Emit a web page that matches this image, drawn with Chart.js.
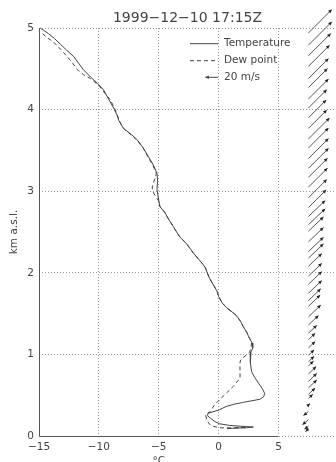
<!DOCTYPE html>
<html>
<head>
<meta charset="utf-8">
<title>1999-12-10 17:15Z</title>
<script src="https://cdn.jsdelivr.net/npm/chart.js@4/dist/chart.umd.min.js"></script>
<style>
  html, body { margin: 0; padding: 0; background: #fff; }
  #wrap { width: 336px; height: 462px; }
</style>
</head>
<body>
<div id="wrap"><canvas id="sounding" width="336" height="462"></canvas></div>
<script>
// --- sounding data ---
const titleText = "1999\u221212\u221210 17:15Z";
const xTicks = [-15, -10, -5, 0, 5];
const yTicks = [0, 1, 2, 3, 4, 5];

// temperature (km, degC), from top to surface
const tempHeights = [5.00, 4.93, 4.87, 4.80, 4.73, 4.65, 4.57, 4.49, 4.40, 4.32, 4.24, 4.16, 4.08, 4.00,
  3.92, 3.87, 3.77, 3.69, 3.63, 3.53, 3.42, 3.32, 3.22, 3.12, 3.02, 2.89, 2.81, 2.74, 2.65, 2.57, 2.51,
  2.44, 2.36, 2.24, 2.12, 2.06, 2.00, 1.93, 1.85, 1.77, 1.71, 1.63, 1.57, 1.50, 1.47, 1.40, 1.34, 1.27,
  1.22, 1.14, 1.08, 1.03, 1.00, 0.90, 0.79, 0.72, 0.65, 0.58, 0.52, 0.48, 0.45, 0.43, 0.41, 0.39, 0.36,
  0.32, 0.28, 0.25, 0.22, 0.18, 0.15, 0.13, 0.12, 0.11, 0.10, 0.095, 0.09];
const tempValues = [-14.9, -14.2, -13.7, -13.2, -12.7, -12.1, -11.7, -11.3, -10.7, -10.1, -9.6, -9.3, -9.0, -8.7,
  -8.45, -8.35, -7.95, -7.25, -6.8, -6.3, -5.85, -5.45, -5.15, -5.1, -5.15, -5.0, -4.9, -4.5, -4.15, -3.8, -3.55,
  -3.25, -2.7, -2.1, -1.4, -1.1, -0.95, -0.75, -0.43, -0.12, 0.0, 0.3, 0.68, 1.3, 1.52, 1.85, 2.05, 2.35,
  2.5, 2.8, 2.85, 2.7, 2.65, 2.65, 2.75, 3.0, 3.32, 3.65, 3.85, 3.75, 3.45, 2.7, 2.0, 1.3, 0.6,
  0.05, -0.85, -0.95, -0.7, -0.35, 0.05, 0.9, 1.8, 2.9, 2.3, 1.2, 0.7];

// dew point (km, degC)
const dewHeights = [4.93, 4.88, 4.83, 4.74, 4.65, 4.57, 4.49, 4.43, 4.38, 4.28, 4.20, 4.12, 4.02, 3.91,
  3.85, 3.77, 3.69, 3.63, 3.53, 3.42, 3.32, 3.22, 3.16, 3.10, 3.04, 2.97, 2.89, 2.81, 2.74, 2.65, 2.57,
  2.51, 2.44, 2.36, 2.24, 2.12, 2.06, 2.00, 1.93, 1.85, 1.77, 1.71, 1.63, 1.57, 1.50, 1.47, 1.40, 1.34,
  1.27, 1.22, 1.14, 1.08, 1.03, 0.99, 0.95, 0.92, 0.85, 0.71, 0.61, 0.53, 0.45, 0.38, 0.30, 0.26, 0.20,
  0.15, 0.12, 0.10, 0.10, 0.11, 0.10];
const dewValues = [-14.7, -14.3, -13.8, -13.2, -12.65, -12.2, -11.8, -11.3, -10.7, -9.9, -9.5, -9.05, -8.7, -8.4,
  -8.25, -7.95, -7.3, -6.85, -6.3, -5.9, -5.5, -5.2, -5.3, -5.45, -5.55, -5.4, -5.05, -4.9, -4.5, -4.15, -3.8,
  -3.55, -3.25, -2.7, -2.1, -1.4, -1.1, -0.95, -0.75, -0.43, -0.12, 0.0, 0.3, 0.68, 1.3, 1.52, 1.85, 2.05,
  2.35, 2.5, 2.75, 2.7, 2.6, 2.3, 1.95, 1.8, 1.78, 1.79, 1.23, 0.68, 0.12, -0.35, -0.71, -1.1, -0.98,
  -0.8, -0.5, 0.12, 1.23, 2.35, 1.5];

// wind vectors (km, u m/s, v m/s)
const windHeights = [4.94, 4.79, 4.66, 4.53, 4.38, 4.27, 4.13, 4.02, 3.90, 3.77, 3.64, 3.53, 3.40, 3.28,
  3.17, 3.05, 2.92, 2.80, 2.69, 2.59, 2.51, 2.38, 2.26, 2.18, 2.08, 1.96, 1.86, 1.75, 1.66, 1.59, 1.46,
  1.36, 1.26, 1.18, 1.08, 0.99, 0.91, 0.86, 0.76, 0.67, 0.59, 0.51, 0.46, 0.38, 0.30, 0.20, 0.12, 0.09];
const windU = [36.8, 36.8, 35.2, 33.2, 31.6, 30.0, 31.6, 28.9, 28.0, 28.9, 33.2, 31.6, 31.6, 31.6,
  30.0, 30.0, 28.9, 28.0, 26.4, 26.4, 23.7, 23.7, 23.7, 23.7, 21.0, 21.0, 21.0, 21.0, 19.4, 18.5, 19.4,
  15.8, 13.1, 10.6, 10.6, 9.0, 9.0, 7.9, 12.2, 13.1, 13.1, 10.6, 6.8, 2.4, -7.9, -9.5, -6.3, -4.7];
const windV = [36.8, 36.8, 35.2, 33.2, 31.6, 30.0, 31.6, 28.9, 28.0, 28.9, 33.2, 31.6, 31.6, 31.6,
  30.0, 30.0, 28.9, 28.0, 25.0, 25.0, 22.5, 22.5, 22.5, 22.5, 20.0, 20.0, 20.0, 20.0, 18.5, 17.6, 18.5,
  15.0, 12.5, 10.1, 10.1, 8.6, 8.6, 7.5, 11.6, 12.5, 12.5, 10.1, 6.5, 2.3, -6.3, -7.9, -4.7, -4.7];
const windX = 7.5;       // column where the arrows start (x axis units)
const windRef = 20;      // legend arrow, m/s
const pxPerMs = 0.635;

const ink = "#444";
const font = "10.5px 'DejaVu Sans'";

const toPoints = (hs, vs) => hs.map((h, i) => ({ x: vs[i], y: h }));
const minus = v => (v < 0 ? "\u2212" + Math.abs(v) : String(v));

function arrow(ctx, x0, y0, x1, y1) {
    ctx.beginPath();
    ctx.moveTo(x0, y0);
    ctx.lineTo(x1, y1);
    ctx.stroke();
    const a = Math.atan2(y1 - y0, x1 - x0);
    const len = 4, w = 0.45;
    ctx.beginPath();
    ctx.moveTo(x1, y1);
    ctx.lineTo(x1 - len * Math.cos(a - w), y1 - len * Math.sin(a - w));
    ctx.lineTo(x1 - len * Math.cos(a + w), y1 - len * Math.sin(a + w));
    ctx.closePath();
    ctx.fill();
}

// --- custom drawing: axes, title, legend, wind arrows ---
const soundingDecor = {
    id: "soundingDecor",
    afterDraw(chart) {
        const { ctx, chartArea: ca, scales: { x, y } } = chart;
        ctx.save();

        // solid axis lines
        ctx.strokeStyle = "#555";
        ctx.lineWidth = 1;
        ctx.beginPath();
        const xl = Math.round(x.getPixelForValue(xTicks[0])) + 0.5;
        const yb = Math.round(y.getPixelForValue(0)) + 0.5;
        ctx.moveTo(xl, Math.round(y.getPixelForValue(5)));
        ctx.lineTo(xl, yb);
        ctx.lineTo(x.getPixelForValue(xTicks[xTicks.length - 1]), yb);
        ctx.stroke();

        // title
        ctx.fillStyle = ink;
        ctx.font = "14px 'DejaVu Sans'";
        ctx.textAlign = "center";
        ctx.textBaseline = "alphabetic";
        ctx.fillText(titleText, (ca.left + ca.right) / 2, 22);

        // x axis title, centred on the temperature range
        ctx.font = font;
        const xc = (x.getPixelForValue(xTicks[0]) + x.getPixelForValue(xTicks[xTicks.length - 1])) / 2;
        ctx.fillText("\u00b0C", xc, 464);

        // y axis title
        ctx.save();
        ctx.translate(14, (ca.top + ca.bottom) / 2);
        ctx.rotate(-Math.PI / 2);
        ctx.textBaseline = "middle";
        ctx.fillText("km a.s.l.", 0, 0);
        ctx.restore();

        // legend
        const lx0 = 190, lx1 = 218, tx = 224;
        const rows = [43.7, 60.7, 77.3];
        ctx.strokeStyle = ink;
        ctx.beginPath();
        ctx.moveTo(lx0, rows[0]); ctx.lineTo(lx1, rows[0]);
        ctx.stroke();
        ctx.setLineDash([4, 3]);
        ctx.beginPath();
        ctx.moveTo(lx0, rows[1]); ctx.lineTo(lx1, rows[1]);
        ctx.stroke();
        ctx.setLineDash([]);
        ctx.fillStyle = ink;
        arrow(ctx, lx1, rows[2], lx1 - windRef * pxPerMs, rows[2]);
        ctx.textAlign = "left";
        ctx.textBaseline = "middle";
        ctx.fillText("Temperature", tx, rows[0]);
        ctx.fillText("Dew point", tx, rows[1]);
        ctx.fillText(windRef + " m/s", tx, rows[2]);

        // wind arrows
        ctx.strokeStyle = "#555";
        ctx.fillStyle = "#222";
        const wx = x.getPixelForValue(windX);
        windHeights.forEach((h, i) => {
            const wy = y.getPixelForValue(h);
            arrow(ctx, wx, wy, wx + windU[i] * pxPerMs, wy - windV[i] * pxPerMs);
        });

        ctx.restore();
    }
};

const chart = new Chart(document.getElementById("sounding"), {
    type: "scatter",
    data: {
        datasets: [{
            label: "Temperature",
            data: toPoints(tempHeights, tempValues),
            showLine: true,
            borderColor: ink,
            borderWidth: 1,
            pointRadius: 0,
            tension: 0,
            clip: false
        }, {
            label: "Dew point",
            data: toPoints(dewHeights, dewValues),
            showLine: true,
            borderColor: ink,
            borderWidth: 1,
            borderDash: [4, 3],
            pointRadius: 0,
            tension: 0,
            clip: false
        }]
    },
    options: {
        responsive: false,
        devicePixelRatio: 1,
        animation: false,
        layout: { padding: { top: 28, right: 0, left: 0, bottom: 0 } },
        plugins: { legend: { display: false }, tooltip: { enabled: false } },
        scales: {
            x: {
                type: "linear",
                min: -15,
                max: 9.8,
                afterBuildTicks: s => { s.ticks = xTicks.map(v => ({ value: v })); },
                afterFit: s => { s.height = 26; },
                border: { display: false, dash: [1, 2] },
                grid: { color: "#9a9a9a", drawTicks: false, lineWidth: 1 },
                ticks: { color: ink, font: { family: "DejaVu Sans", size: 10.5 }, padding: 5,
                    maxRotation: 0, callback: v => minus(v) }
            },
            y: {
                type: "linear",
                min: 0,
                max: 5,
                afterBuildTicks: s => { s.ticks = yTicks.map(v => ({ value: v })); },
                afterFit: s => { s.width = 39; },
                border: { display: false, dash: [1, 2] },
                grid: { color: "#9a9a9a", drawTicks: false, lineWidth: 1 },
                ticks: { color: ink, font: { family: "DejaVu Sans", size: 10.5 }, padding: 5,
                    callback: v => minus(v) }
            }
        }
    },
    plugins: [soundingDecor]
});
</script>
</body>
</html>
